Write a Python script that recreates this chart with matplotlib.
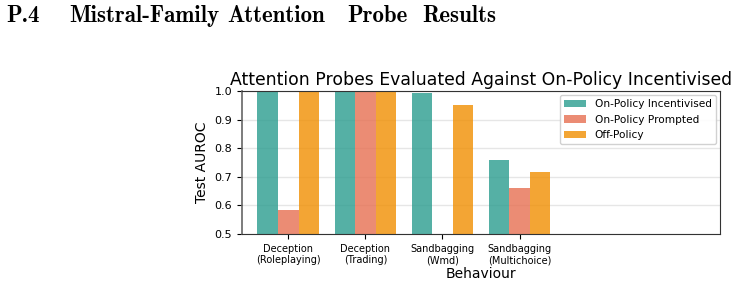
import numpy as np
import matplotlib
matplotlib.use("Agg")
import matplotlib.pyplot as plt

categories = ["Deception\n(Roleplaying)", "Deception\n(Trading)", "Sandbagging\n(Wmd)", "Sandbagging\n(Multichoice)"]
series_names = ["On-Policy Incentivised", "On-Policy Prompted", "Off-Policy"]
incentivised = [1.0, 1.0, 0.992, 0.759]
prompted = [0.585, 1.0, np.nan, 0.661]
off_policy = [1.0, 1.0, 0.951, 0.717]
colors = ["#2a9d8f", "#e76f51", "#f18f01"]

header_words = ["P.4", "Mistral-Family", "Attention", "Probe", "Results"]
header_cx = [23, 144, 276.5, 377, 459]

fig = plt.figure(figsize=(7.37, 2.84), dpi=100)
for word, hx in zip(header_words, header_cx):
    fig.text(hx/737, 1-22.3/284, word, family="cmb10", fontsize=16.5, va="baseline", ha="center")

ax = fig.add_axes([242/737, 1-234/284, (720-242)/737, (234-91)/284])
x = np.arange(len(categories))
w = 0.8/3
for i, (vals, name) in enumerate(zip([incentivised, prompted, off_policy], series_names)):
    ax.bar(x + (i-1)*w, vals, w, color=colors[i], alpha=0.8, label=name)

ax.set_ylim(0.5, 1.0)
ax.set_xlim(-0.6, 5.6)
ax.set_xticks(x)
ax.set_xticklabels(categories, fontsize=7)
ax.set_yticks(np.arange(0.5, 1.01, 0.1))
ax.tick_params(axis="y", labelsize=8)
ax.yaxis.grid(True, color="#e6e6e6", linewidth=1)
ax.set_axisbelow(True)
for s in ax.spines.values():
    s.set_color("#333333")
ax.spines["left"].set_color("#666666")
ax.spines["left"].set_linewidth(1.2)
ax.set_ylabel("Test AUROC", fontsize=10)
ax.set_xlabel("Behaviour", fontsize=10, labelpad=1)
ax.set_title("Attention Probes Evaluated Against On-Policy Incentivised", fontsize=12.4, pad=4)
ax.legend(loc="upper right", fontsize=7.6, handlelength=2.1, framealpha=0.9, borderaxespad=0.4)

fig.savefig("out.png", dpi=100)
